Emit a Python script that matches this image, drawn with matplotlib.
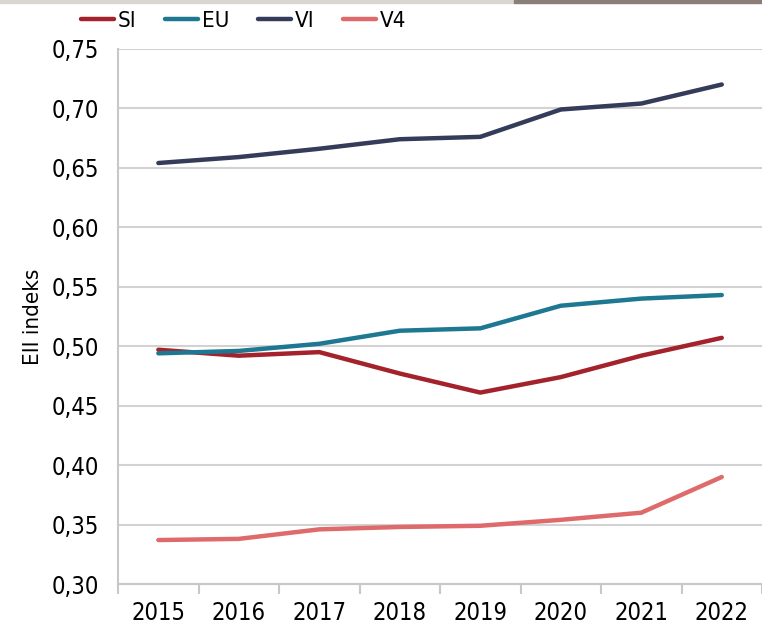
import numpy as np
import matplotlib.pyplot as plt
from matplotlib.patches import Rectangle

plt.rcParams['font.family'] = ['DejaVu Sans']
plt.rcParams['font.stretch'] = 'condensed'

# data
years = ['2015', '2016', '2017', '2018', '2019', '2020', '2021', '2022']
si = [0.497, 0.492, 0.495, 0.477, 0.461, 0.474, 0.492, 0.507]
eu = [0.494, 0.496, 0.502, 0.513, 0.515, 0.534, 0.540, 0.543]
vi = [0.654, 0.659, 0.666, 0.674, 0.676, 0.699, 0.704, 0.720]
v4 = [0.337, 0.338, 0.346, 0.348, 0.349, 0.354, 0.360, 0.390]

series = [('SI', si, '#a3222b'), ('EU', eu, '#1e7892'),
          ('VI', vi, '#343c5a'), ('V4', v4, '#df6a6c')]

fig = plt.figure(figsize=(7.62, 6.26), dpi=100)
ax = fig.add_axes([0.155, 0.067, 0.845, 0.855])

x = np.arange(len(years))
for name, vals, col in series:
    ax.plot(x, vals, color=col, lw=3.2, label=name, solid_capstyle='round')

ax.set_xlim(-0.5, len(years) - 0.5)
ax.set_ylim(0.30, 0.75)
ax.set_yticks(np.arange(0.30, 0.751, 0.05))
ax.set_yticklabels([f'{v:.2f}'.replace('.', ',') for v in np.arange(0.30, 0.751, 0.05)])
ax.set_xticks(x)
ax.set_xticklabels(years)
ax.set_xticks(np.arange(-0.5, len(years), 1), minor=True)
ax.tick_params(axis='x', which='major', length=0, pad=12, labelsize=17)
ax.tick_params(axis='x', which='minor', length=7, width=1.5, color='#c8c8c8')
ax.tick_params(axis='y', length=0, pad=14, labelsize=17)
ax.grid(axis='y', color='#d2d2d2', lw=1.5)
ax.set_axisbelow(True)
for s in ['top', 'right']:
    ax.spines[s].set_visible(False)
for s in ['left', 'bottom']:
    ax.spines[s].set_color('#c8c8c8')
    ax.spines[s].set_linewidth(1.5)
ax.set_ylabel('EII indeks', fontsize=16, labelpad=6)

ax.legend(loc='center left', bbox_to_anchor=(-0.058, 1.052), ncol=4, frameon=False,
          fontsize=16, handlelength=1.5, handletextpad=0.15, columnspacing=1.3,
          borderaxespad=0, borderpad=0)

# decorative strip on top
fig.patches.append(Rectangle((0, 0.995), 0.675, 0.005, transform=fig.transFigure,
                             color='#d9d6d2', zorder=5))
fig.patches.append(Rectangle((0.675, 0.995), 0.325, 0.005, transform=fig.transFigure,
                             color='#8a7e77', zorder=5))

fig.savefig('out.png', dpi=100)
